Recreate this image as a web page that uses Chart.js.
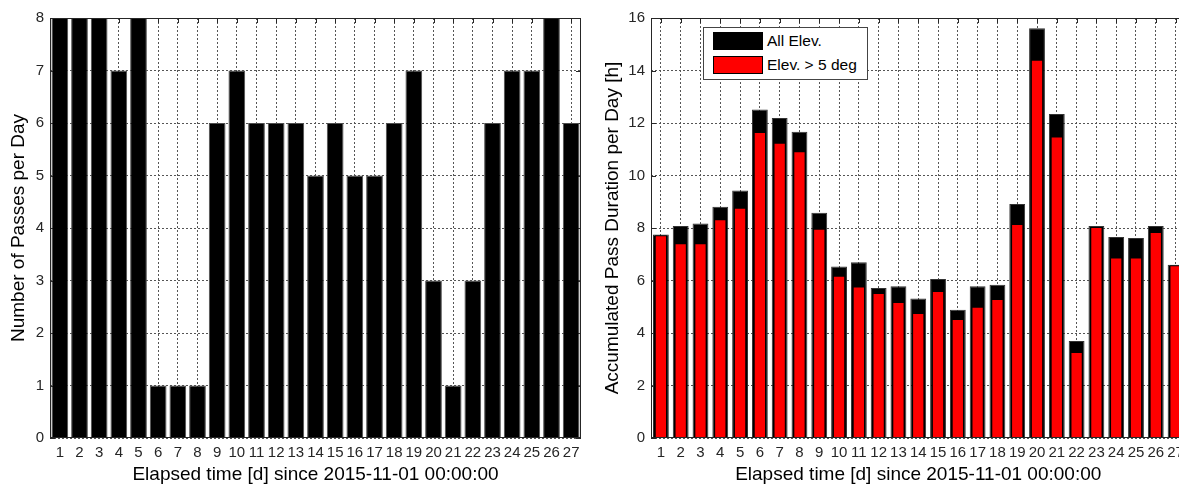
<!DOCTYPE html>
<html>
<head>
<meta charset="utf-8">
<script src="https://cdn.jsdelivr.net/npm/chart.js@4.4.0/dist/chart.umd.min.js"></script>
<style>
  html, body { margin: 0; padding: 0; background: #fff; overflow: hidden; }
  body { width: 1179px; height: 486px; position: relative; }
  .box { position: absolute; top: 0; height: 486px; }
  #left-box { left: 0; width: 590px; }
  #right-box { left: 590px; width: 600px; }
  #legend {
    position: absolute; left: 703px; top: 27px; width: 165px; height: 53px;
    box-sizing: border-box; border: 1px solid #444; background: #fff;
    font-family: "Liberation Sans", Arial, sans-serif; font-size: 15.5px; color: #000;
  }
  #legend .row { position: absolute; left: 9px; height: 18px; display: flex; align-items: center; white-space: nowrap; }
  #legend .swatch { display: inline-block; width: 50px; height: 18px; box-sizing: border-box; border: 1px solid #000; margin-right: 4px; }
</style>
</head>
<body>
<div class="box" id="left-box"><canvas id="passesChart"></canvas></div>
<div class="box" id="right-box"><canvas id="durationChart"></canvas></div>
<div id="legend"></div>

<script>
// days since 2015-11-01
const dayLabels = ['1','2','3','4','5','6','7','8','9','10','11','12','13','14',
                   '15','16','17','18','19','20','21','22','23','24','25','26','27'];

const passesPerDay = [8, 8, 8, 7, 8, 1, 1, 1, 6, 7, 6, 6, 6, 5, 6, 5, 5, 6, 7, 3, 1, 3, 6, 7, 7, 8, 6];

// accumulated pass duration [h]
const durationAll = [7.75, 8.08, 8.17, 8.81, 9.43, 12.51, 12.19, 11.67, 8.58, 6.53, 6.70, 5.71, 5.78, 5.31,
                     6.06, 4.89, 5.78, 5.84, 8.91, 15.61, 12.34, 3.70, 8.08, 7.66, 7.62, 8.08, 6.60];
const durationAbove5 = [7.72, 7.42, 7.42, 8.33, 8.77, 11.66, 11.25, 10.92, 7.97, 6.18, 5.77, 5.52, 5.18, 4.76,
                        5.60, 4.53, 5.00, 5.30, 8.15, 14.41, 11.49, 3.28, 8.04, 6.88, 6.88, 7.85, 6.58];

const passTicks = { min: 0, max: 8, step: 1 };
const durationTicks = { min: 0, max: 16, step: 2 };

const xTitle = 'Elapsed time [d] since 2015-11-01 00:00:00';

Chart.defaults.font.family = '"Liberation Sans", Arial, sans-serif';
Chart.defaults.color = '#262626';
Chart.defaults.animation = false;

// box around the axes + inward tick marks (matlab look)
const framePlugin = {
  id: 'frame',
  beforeDatasetsDraw(chart) {
    const { ctx, chartArea: a, scales: { x, y } } = chart;
    ctx.save();
    ctx.strokeStyle = '#262626';
    ctx.lineWidth = 1;
    ctx.beginPath();
    x.ticks.forEach((t, i) => {
      const px = Math.round(x.getPixelForTick(i)) + 0.5;
      ctx.moveTo(px, a.top); ctx.lineTo(px, a.top + 5);
      ctx.moveTo(px, a.bottom); ctx.lineTo(px, a.bottom - 5);
    });
    y.ticks.forEach((t, i) => {
      const py = Math.round(y.getPixelForTick(i)) + 0.5;
      ctx.moveTo(a.left, py); ctx.lineTo(a.left + 5, py);
      ctx.moveTo(a.right, py); ctx.lineTo(a.right - 5, py);
    });
    ctx.stroke();
    ctx.restore();
  },
  afterDatasetsDraw(chart) {
    const { ctx, chartArea: a } = chart;
    ctx.save();
    ctx.strokeStyle = '#262626';
    ctx.lineWidth = 1;
    ctx.strokeRect(Math.round(a.left) + 0.5, Math.round(a.top) + 0.5,
                   Math.round(a.right - a.left) - 1, Math.round(a.bottom - a.top) - 1);
    ctx.restore();
  }
};

function xScale() {
  return {
    grid: { color: '#555', lineWidth: 1, offset: false, drawTicks: false },
    border: { display: false, dash: [2, 2] },
    ticks: { autoSkip: false, maxRotation: 0, padding: 6, color: '#262626', font: { size: 15 } },
    title: { display: true, text: xTitle, color: '#000', font: { size: 19 }, padding: { top: 0, bottom: 0 } },
    afterFit: s => { s.height = 48; }
  };
}

function yScale(t, title, width, titlePad) {
  return {
    min: t.min,
    max: t.max,
    grid: { color: '#555', lineWidth: 1, drawTicks: false },
    border: { display: false, dash: [2, 2] },
    ticks: { stepSize: t.step, padding: 6, color: '#262626', font: { size: 15 } },
    title: { display: true, text: title, color: '#000', font: { size: 19 }, padding: { top: titlePad, bottom: 0 } },
    afterFit: s => { s.width = width; }
  };
}

new Chart(document.getElementById('passesChart'), {
  type: 'bar',
  data: {
    labels: dayLabels,
    datasets: [{
      label: 'Passes',
      data: passesPerDay,
      backgroundColor: '#000',
      borderColor: '#4d4d4d',
      borderWidth: 1,
      barPercentage: 0.85,
      categoryPercentage: 1
    }]
  },
  options: {
    responsive: true,
    maintainAspectRatio: false,
    layout: { padding: { top: 18, right: 9, left: 0, bottom: 0 } },
    plugins: { legend: { display: false }, tooltip: { enabled: false } },
    scales: {
      x: xScale(),
      y: yScale(passTicks, 'Number of Passes per Day', 50, 7)
    }
  },
  plugins: [framePlugin]
});

const durationChart = new Chart(document.getElementById('durationChart'), {
  type: 'bar',
  data: {
    labels: dayLabels,
    datasets: [{
      label: 'All Elev.',
      data: durationAll,
      backgroundColor: '#000',
      borderColor: '#333',
      borderWidth: 1,
      barPercentage: 0.8,
      categoryPercentage: 1,
      grouped: false,
      order: 1
    }, {
      label: 'Elev. > 5 deg',
      data: durationAbove5,
      backgroundColor: '#ff0000',
      borderColor: '#000',
      borderWidth: 1,
      barPercentage: 0.62,
      categoryPercentage: 1,
      grouped: false,
      order: 0
    }]
  },
  options: {
    responsive: true,
    maintainAspectRatio: false,
    layout: { padding: { top: 18, right: 4, left: 0, bottom: 0 } },
    plugins: { legend: { display: false }, tooltip: { enabled: false } },
    scales: {
      x: xScale(),
      y: yScale(durationTicks, 'Accumulated Pass Duration per Day [h]', 61, 11)
    }
  },
  plugins: [framePlugin]
});

// html legend built from the datasets
const legendBox = document.getElementById('legend');
durationChart.data.datasets.forEach((ds, i) => {
  const row = document.createElement('div');
  row.className = 'row';
  row.style.top = (4 + i * 24) + 'px';
  const sw = document.createElement('span');
  sw.className = 'swatch';
  sw.style.background = ds.backgroundColor;
  const txt = document.createElement('span');
  txt.textContent = ds.label;
  row.appendChild(sw);
  row.appendChild(txt);
  legendBox.appendChild(row);
});
</script>
</body>
</html>
